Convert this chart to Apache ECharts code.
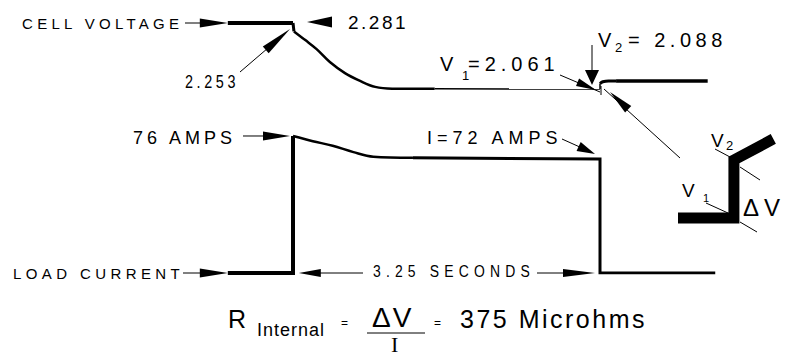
<!DOCTYPE html>
<html>
<head>
<meta charset="utf-8">
<script src="https://cdn.jsdelivr.net/npm/echarts@6/dist/echarts.min.js"></script>
<style>
  html, body { margin: 0; padding: 0; background: #ffffff; }
  #chart { width: 787px; height: 356px; }
</style>
</head>
<body>
<div id="chart"></div>
<script>
// Cell voltage during a 3.25 s load pulse (time in seconds, load on at t = 0)
const voltageTime  = [-0.69, 0, 0.01, 0.13, 0.25, 0.39, 0.55, 0.71, 0.87, 1.05, 1.5, 3.25, 3.25, 3.28, 3.34, 3.42, 4.39];
const voltageValue = [2.281, 2.281, 2.253, 2.224, 2.194, 2.151, 2.114, 2.088, 2.068, 2.062, 2.0615, 2.061, 2.079, 2.085, 2.088, 2.088, 2.088];

// Load current (amps)
const currentTime  = [-0.69, 0, 0, 0.21, 0.42, 0.64, 0.85, 1.27, 3.25, 3.25, 4.47];
const currentValue = [0, 0, 76, 75.1, 74.3, 73.2, 72.4, 72.2, 72, 0, 0];

// Enlarged step at load removal: V1 -> V2
const insetStep    = [0, 0.98, 0.98, 1.67];
const insetVoltage = [2.061, 2.061, 2.088, 2.0978];

const FONT  = "'Liberation Sans', Arial, Helvetica, sans-serif";
const SERIF = "'Liberation Serif', 'Times New Roman', serif";

const pairs = (xs, ys, a, b) => xs.slice(a, b + 1).map((x, i) => [x, ys[a + i]]);

const chart = echarts.init(document.getElementById('chart'), null, { renderer: 'svg' });

const trace = (name, grid, data, width, smooth) => ({
  type: 'line', name, xAxisIndex: grid, yAxisIndex: grid, data,
  symbol: 'none', smooth: smooth || false, silent: true, animation: false,
  lineStyle: { color: '#000', width, join: 'miter', cap: 'butt' }
});

const secPx = 307 / 3.25;
const tMin = -0.7, tMax = 4.6;

chart.setOption({
  backgroundColor: '#ffffff',
  animation: false,
  grid: [
    { left: 293 + tMin * secPx, width: (tMax - tMin) * secPx, top: 17.3, height: 90, outerBoundsMode: 'none', containLabel: false },
    { left: 293 + tMin * secPx, width: (tMax - tMin) * secPx, top: 130.25, height: 142.75, outerBoundsMode: 'none', containLabel: false },
    { left: 678, width: 97, top: 134.22, height: 96.67, outerBoundsMode: 'none', containLabel: false }
  ],
  xAxis: [
    { gridIndex: 0, type: 'value', min: tMin, max: tMax, show: false },
    { gridIndex: 1, type: 'value', min: tMin, max: tMax, show: false },
    { gridIndex: 2, type: 'value', min: 0, max: 1.7, show: false }
  ],
  yAxis: [
    { gridIndex: 0, type: 'value', min: 2.0, max: 2.3, show: false },
    { gridIndex: 1, type: 'value', min: 0, max: 77, show: false,
      breaks: [{ start: 1, end: 70, gap: '67.78%' }],
      breakArea: { show: false } },
    { gridIndex: 2, type: 'value', min: 2.055, max: 2.100, show: false }
  ],
  series: [
    trace('Voltage at rest', 0, pairs(voltageTime, voltageValue, 0, 1), 4),
    trace('Voltage IR step', 0, pairs(voltageTime, voltageValue, 1, 2), 3),
    trace('Voltage decay', 0, pairs(voltageTime, voltageValue, 2, 10), 2.5, 0.35),
    trace('Voltage under load', 0, pairs(voltageTime, voltageValue, 10, 11), 1.5),
    trace('Voltage step up', 0, pairs(voltageTime, voltageValue, 11, 12), 1.5),
    trace('Voltage recovery', 0, pairs(voltageTime, voltageValue, 12, 15), 3, 0.4),
    trace('Voltage after load', 0, pairs(voltageTime, voltageValue, 15, 16), 3.5),
    trace('Current off', 1, pairs(currentTime, currentValue, 0, 2), 4),
    trace('Current droop', 1, pairs(currentTime, currentValue, 2, 7), 2.5, 0.35),
    trace('Current on', 1, pairs(currentTime, currentValue, 7, 10), 3),
    trace('Step detail', 2, insetStep.map((x, i) => [x, insetVoltage[i]]), 11)
  ]
});

// ---- annotations -------------------------------------------------------
const px = (grid, p) => chart.convertToPixel({ gridIndex: grid }, p);

function arrowHead(tip, from, len, half) {
  const dx = tip[0] - from[0], dy = tip[1] - from[1];
  const d = Math.hypot(dx, dy), ux = dx / d, uy = dy / d;
  const bx = tip[0] - ux * len, by = tip[1] - uy * len;
  return { type: 'polygon', silent: true,
    shape: { points: [tip, [bx - uy * half, by + ux * half], [bx + uy * half, by - ux * half]] },
    style: { fill: '#000' } };
}
const thin = (x1, y1, x2, y2) => ({ type: 'line', silent: true,
  shape: { x1, y1, x2, y2 }, style: { stroke: '#000', lineWidth: 1 } });

const vStart = px(0, [voltageTime[0], voltageValue[0]]);
const iStart = px(1, [currentTime[0], currentValue[0]]);
const iPeak  = px(1, [currentTime[2], currentValue[2]]);
const iOff   = px(1, [currentTime[9], currentValue[9]]);

const textSpecs = [
  { text: 'CELL VOLTAGE', x: 22, y: 23, size: 15, ls: 4.3 },
  { text: 'LOAD CURRENT', x: 13, y: 273, size: 15, ls: 4.4 },
  { text: '2.281', x: 348, y: 22, size: 19, ls: 2.5 },
  { text: '2.253', x: 185, y: 81, size: 18, ls: 4.5, sx: 0.8 },
  { text: 'V', x: 440, y: 64, size: 20 },
  { text: '1', x: 462, y: 75, size: 13 },
  { text: '=2.061', x: 468, y: 64, size: 20, ls: 5 },
  { text: 'V', x: 598, y: 40, size: 20 },
  { text: '2', x: 615, y: 47, size: 13 },
  { text: '= 2.088', x: 628, y: 40, size: 20, ls: 4.5 },
  { text: '76 AMPS', x: 133, y: 138, size: 18, ls: 4 },
  { text: 'I=72 AMPS', x: 427, y: 138, size: 18, ls: 5 },
  { text: '3.25 SECONDS', x: 373, y: 271, size: 17, ls: 6.3, sx: 0.82 },
  { text: 'R', x: 228, y: 319, size: 25 },
  { text: 'Internal', x: 257, y: 330, size: 18, ls: 1 },
  { text: '=', x: 341, y: 323, size: 12 },
  { text: 'ΔV', x: 372, y: 317, size: 28, ls: 2 },
  { text: 'I', x: 391, y: 344, size: 22, family: SERIF },
  { text: '=', x: 434, y: 323, size: 12 },
  { text: '375 Microhms', x: 460, y: 319, size: 25, ls: 2.5 },
  { text: 'V', x: 682, y: 190, size: 19 },
  { text: '1', x: 703, y: 198, size: 11 },
  { text: 'V', x: 711, y: 140, size: 19 },
  { text: '2', x: 726, y: 145, size: 13 },
  { text: 'ΔV', x: 743, y: 207, size: 24, ls: 5 }
];

const texts = textSpecs.map(s => ({
  type: 'text', silent: true, x: s.x, y: s.y, scaleX: s.sx || 1,
  style: { text: s.text, fontSize: s.size, fontFamily: s.family || FONT,
    fill: '#000', align: 'left', verticalAlign: 'middle' }
}));

const shapes = [
  // label leaders
  thin(185, vStart[1], vStart[0] - 26, vStart[1]),
  arrowHead(vStart, [0, vStart[1]], 28, 4.5),
  thin(183, iStart[1], iStart[0] - 26, iStart[1]),
  arrowHead(iStart, [0, iStart[1]], 28, 4.5),
  arrowHead([307, 22], [400, 22], 25, 5.5),
  thin(240, 72, 268, 48),
  arrowHead([290, 29], [240, 72], 32, 4.5),
  thin(243, iPeak[1], iPeak[0] - 25, iPeak[1]),
  arrowHead([iPeak[0] - 3, iPeak[1]], [0, iPeak[1]], 27, 4.5),
  thin(560, 75, 600, 92),
  arrowHead([596, 90], [560, 75], 20, 4),
  thin(592, 45, 592, 72),
  arrowHead([592, 85], [592, 0], 15, 7),
  thin(562, 139, 582, 148),
  arrowHead([595, 154], [562, 139], 18, 5),
  // pulse duration
  thin(318, iOff[1], 363, iOff[1]),
  arrowHead([iStart[0] + 71, iOff[1]], [800, iOff[1]], 22, 4),
  thin(537, iOff[1], 565, iOff[1]),
  arrowHead([iOff[0] - 5, iOff[1]], [0, iOff[1]], 32, 4),
  // pointer from the step detail to V1/V2
  thin(604, 89, 680, 158),
  arrowHead([610, 92], [680, 158], 25, 4.5),
  thin(601, 86, 601, 95),
  // extension lines on the step detail
  thin(706, 203, 728, 213),
  thin(715, 149, 730, 157),
  thin(740, 167, 760, 180),
  thin(740, 222, 757, 232),
  // fraction bar
  thin(367, 333, 425, 333)
];

chart.setOption({ graphic: { elements: shapes.concat(texts) } });

function applySpacing() {
  const nodes = Array.from(document.querySelectorAll('#chart svg text'));
  const used = new Set();
  textSpecs.forEach(s => {
    const n = nodes.find(el => !used.has(el) && el.textContent === s.text);
    if (n) {
      used.add(n);
      if (s.ls) n.style.letterSpacing = s.ls + 'px';
    }
  });
}
applySpacing();
chart.on('finished', applySpacing);
setTimeout(applySpacing, 0);
</script>
</body>
</html>
